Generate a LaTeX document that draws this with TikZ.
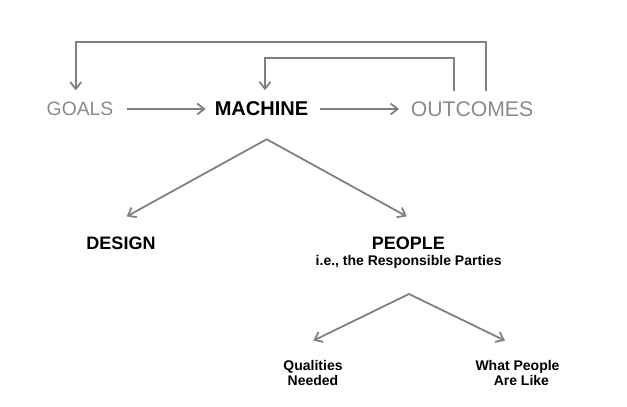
\documentclass[tikz,border=0pt]{standalone}
\usepackage{fontspec}
\setmainfont{Liberation Sans}
\usetikzlibrary{arrows.meta}
\definecolor{linegray}{HTML}{808080}
\definecolor{textgray}{HTML}{8A8A8A}
\tikzset{
  conn/.style={draw=linegray, line width=1.8pt, -{Straight Barb[length=7pt,width=11pt]}},
  loopline/.style={conn, rounded corners=0pt},
  lbl/.style={inner sep=0pt, font=\fontsize{20}{24}\selectfont},
  head/.style={inner sep=0pt, font=\bfseries\fontsize{18}{21}\selectfont},
  small/.style={inner sep=0pt, align=center, font=\bfseries\fontsize{14}{15}\selectfont},
}
\begin{document}
\begin{tikzpicture}[x=1pt,y=1pt]
\useasboundingbox (0,0) rectangle (627,407);
% top row
\node[lbl, text=textgray, font=\fontsize{19.3}{23}\selectfont] (goals) at (80,298) {GOALS};
\node[lbl, font=\bfseries\fontsize{20}{24}\selectfont] (machine) at (261.5,298) {MACHINE};
\node[lbl, text=textgray, font=\fontsize{21.2}{25}\selectfont] (outcomes) at (472,298) {OUTCOMES};
% second row
\node[head] (design) at (121,164) {DESIGN};
\node[head] (people) at (408.3,164) {PEOPLE};
\node[small, anchor=base] (resp) at (408.7,141) {i.e., the Responsible Parties};
% third row
\node[small] (qual) at (313,34.5) {Qualities\\Needed};
\node[small] (what) at (517.5,34.5) {What People\\\ \ Are Like};
% horizontal arrows
\draw[conn, shorten <=13.5pt, shorten >=9pt] (goals.east) -- (machine.west);
\draw[conn, shorten <=12pt, shorten >=11.5pt] (machine.east) -- (outcomes.west);
% feedback loops
\coordinate (outerTop) at (0,365);
\coordinate (innerTop) at (0,349);
\draw[loopline] ([shift={(13.7pt,10.5pt)}]outcomes.north) |- (outerTop -| 75.7,0) -- ([shift={(-4.3pt,11.5pt)}]goals.north);
\draw[loopline] ([shift={(-18pt,10.5pt)}]outcomes.north) |- (innerTop -| 265,0) -- ([shift={(3.5pt,11.5pt)}]machine.north);
% branches
\coordinate (apex1) at ([shift={(5.2pt,-23pt)}]machine.south);
\draw[conn] (apex1) -- ([shift={(5.7pt,20pt)}]design.north);
\draw[conn] (apex1) -- ([shift={(-1.6pt,20pt)}]people.north);
\coordinate (apex2) at (409,113);
\draw[conn] (apex2) -- ([shift={(0.3pt,19pt)}]qual.north);
\draw[conn] (apex2) -- ([shift={(-12.5pt,19pt)}]what.north);
\end{tikzpicture}
\end{document}
